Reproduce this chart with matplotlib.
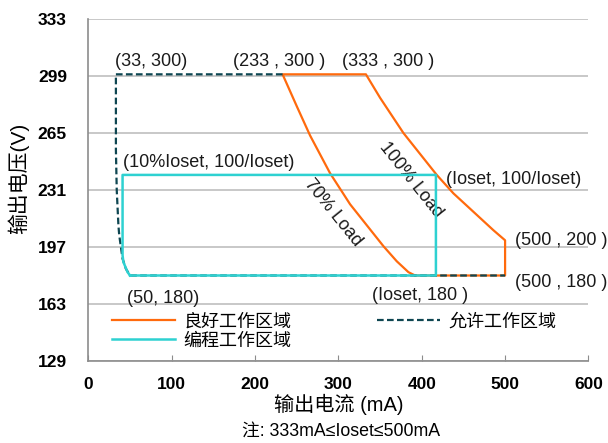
import matplotlib
matplotlib.use("Agg")
import matplotlib.pyplot as plt

plt.rcParams['font.family'] = ['Liberation Sans', 'Noto Sans CJK SC']

# 良好工作区域 (orange): 70% curve up, top edge, 100% curve down, right edge, bottom
good_I = [392, 384, 370, 354, 338, 314, 290, 266, 250, 233,
          333, 350, 364, 378, 398, 418, 438, 462, 486, 500, 500, 392]
good_V = [180, 182, 188.5, 197.5, 207.5, 222.5, 241, 263.5, 281, 300,
          300, 286, 275.5, 265, 252.5, 240, 229, 218, 207, 201, 180, 180]

# 允许工作区域 (dashed)
allow_I = [233, 33, 33, 34, 36, 37, 39, 41, 45, 50, 500]
allow_V = [300, 300, 255, 231, 210, 204, 197, 190, 184, 180, 180]

# 编程工作区域 (cyan)
prog_I = [50, 417, 417, 41, 41, 42, 47, 50]
prog_V = [180, 180, 240, 240, 192, 188, 182, 180]

x_ticks = [0, 100, 200, 300, 400, 500, 600]
y_ticks = [129, 163, 197, 231, 265, 299, 333]

# 标注 (text, x, y)
point_labels = [
    ("(33, 300)", 32, 307.5),
    ("(233 , 300 )", 174, 307.5),
    ("(333 , 300 )", 304, 307.5),
    ("(10%Ioset, 100/Ioset)", 41, 247.5),
    ("(Ioset, 100/Ioset)", 429, 237),
    ("(500 , 200 )", 512, 200.6),
    ("(500 , 180 )", 512, 176),
    ("(50, 180)", 46, 166.4),
    ("(Ioset, 180 )", 340, 167.8),
]

c_orange = "#FF6A0D"
c_cyan = "#2ED1D1"
c_dark = "#0E4651"

fig = plt.figure(figsize=(6.08, 4.43), dpi=100)
ax = fig.add_axes([0.1454, 0.1851, 0.8224, 0.772])

l_good, = ax.plot(good_I, good_V, color=c_orange, lw=1.6, label="良好工作区域", zorder=3,
                  solid_joinstyle='round')
l_allow, = ax.plot(allow_I, allow_V, color=c_dark, lw=1.6, ls=(0, (3, 1.5)), label="允许工作区域", zorder=4)
l_prog, = ax.plot(prog_I, prog_V, color=c_cyan, lw=1.8, label="编程工作区域", zorder=5)

for txt, x, y in point_labels:
    ax.text(x, y, txt, fontsize=13, ha='left', va='center', color='#1a1a1a')

ax.text(387, 237, "100% Load", fontsize=13, rotation=-51.5, rotation_mode='anchor',
        ha='center', va='center', color='#1a1a1a')
ax.text(293, 217.6, "70% Load", fontsize=13, rotation=-51, rotation_mode='anchor',
        ha='center', va='center', color='#1a1a1a')

ax.set_xlim(0, 600)
ax.set_ylim(129, 333)
ax.set_xticks(x_ticks)
ax.set_yticks(y_ticks)
ax.tick_params(axis='both', labelsize=12.5)
for lab in ax.get_xticklabels() + ax.get_yticklabels():
    lab.set_fontweight('bold')
ax.tick_params(axis='x', direction='in', length=4, color='#8C8C8C', pad=11.5)
ax.tick_params(axis='y', length=0, pad=15.5)

ax.grid(axis='y', color='#BFBFBF', lw=1.2)
ax.set_axisbelow(True)
for s in ['top', 'right']:
    ax.spines[s].set_visible(False)
for s in ['left', 'bottom']:
    ax.spines[s].set_color('#8C8C8C')
    ax.spines[s].set_linewidth(1.2)

ax.set_xlabel("输出电流 (mA)", fontsize=14.5, labelpad=1)
fig.text(18 / 608, 1 - 178 / 443, "输出电压(V)", fontsize=15, rotation=90, ha='center', va='center')
fig.text(341 / 608, 1 - 431.5 / 443, "注: 333mA≤Ioset≤500mA", fontsize=12.75, ha='center', va='center')

ax.legend([l_good, l_prog, l_allow], ["良好工作区域", "编程工作区域", "允许工作区域"],
          ncol=2, frameon=False, loc='upper left', bbox_to_anchor=(0.048, 0.138),
          fontsize=13, handlelength=3.45, handletextpad=0.5, columnspacing=4.75,
          labelspacing=0.1, borderaxespad=0, borderpad=0)

fig.savefig("out.png", dpi=100)
